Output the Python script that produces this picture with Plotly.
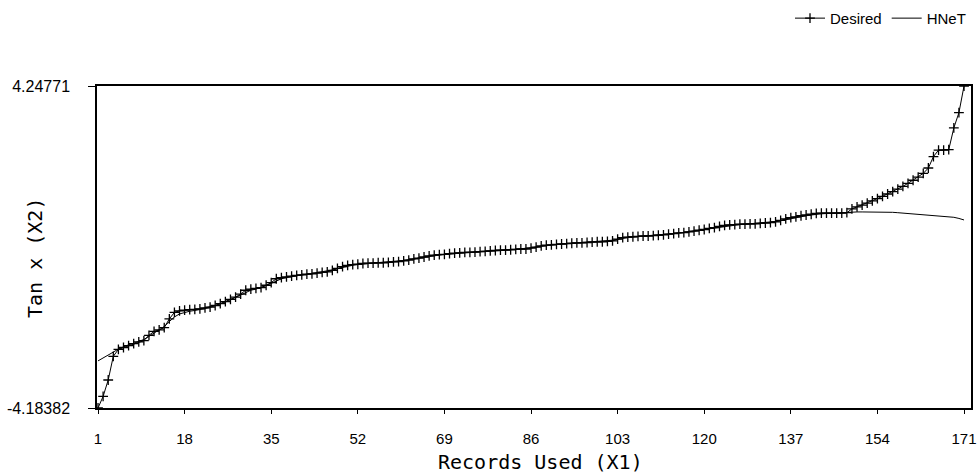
import plotly.graph_objects as go

records = list(range(1, 172))

desired = [
    -4.18382, -3.88, -3.45, -2.83, -2.65, -2.60, -2.55, -2.50, -2.45, -2.42,
    -2.28, -2.18, -2.14, -2.08, -1.85, -1.68, -1.64, -1.62, -1.61, -1.60,
    -1.59, -1.56, -1.54, -1.50, -1.45, -1.40, -1.34, -1.28, -1.20, -1.10,
    -1.07, -1.05, -1.03, -0.97, -0.90, -0.80, -0.77, -0.75, -0.73, -0.71,
    -0.70, -0.68, -0.67, -0.65, -0.63, -0.62, -0.58, -0.53, -0.48, -0.45,
    -0.43, -0.42, -0.40, -0.39, -0.39, -0.38, -0.38, -0.37, -0.36, -0.35,
    -0.33, -0.31, -0.28, -0.26, -0.23, -0.20, -0.18, -0.17, -0.16, -0.14,
    -0.13, -0.12, -0.11, -0.11, -0.10, -0.09, -0.08, -0.07, -0.06, -0.05,
    -0.05, -0.04, -0.03, -0.02, -0.02, 0.00, 0.03, 0.06, 0.08, 0.09,
    0.10, 0.11, 0.12, 0.13, 0.14, 0.14, 0.15, 0.16, 0.17, 0.17,
    0.18, 0.19, 0.24, 0.28, 0.29, 0.30, 0.31, 0.32, 0.32, 0.33,
    0.34, 0.35, 0.37, 0.38, 0.40, 0.41, 0.43, 0.45, 0.47, 0.49,
    0.52, 0.54, 0.57, 0.60, 0.61, 0.62, 0.63, 0.63, 0.64, 0.64,
    0.65, 0.66, 0.67, 0.69, 0.73, 0.77, 0.80, 0.82, 0.85, 0.87,
    0.89, 0.91, 0.92, 0.92, 0.92, 0.92, 0.92, 0.93, 1.03, 1.08,
    1.13, 1.18, 1.24, 1.30, 1.36, 1.42, 1.48, 1.55, 1.62, 1.70,
    1.78, 1.86, 1.96, 2.10, 2.40, 2.57, 2.57, 2.58, 3.15, 3.55,
    4.24771,
]

hnet = [
    -2.95, -2.88, -2.80, -2.72, -2.64, -2.58, -2.53, -2.49, -2.44, -2.39,
    -2.31, -2.22, -2.14, -2.05, -1.92, -1.80, -1.72, -1.68, -1.65, -1.63,
    -1.61, -1.58, -1.55, -1.51, -1.46, -1.41, -1.35, -1.29, -1.22, -1.15,
    -1.10, -1.07, -1.03, -0.98, -0.92, -0.85, -0.80, -0.77, -0.74, -0.72,
    -0.70, -0.68, -0.66, -0.64, -0.62, -0.60, -0.57, -0.53, -0.50, -0.47,
    -0.44, -0.42, -0.41, -0.40, -0.39, -0.38, -0.37, -0.36, -0.35, -0.34,
    -0.32, -0.30, -0.28, -0.26, -0.23, -0.21, -0.19, -0.17, -0.16, -0.15,
    -0.13, -0.12, -0.11, -0.10, -0.09, -0.09, -0.08, -0.07, -0.06, -0.05,
    -0.04, -0.03, -0.03, -0.02, -0.01, 0.01, 0.03, 0.05, 0.07, 0.08,
    0.10, 0.11, 0.12, 0.13, 0.13, 0.14, 0.15, 0.16, 0.17, 0.18,
    0.19, 0.21, 0.23, 0.26, 0.28, 0.29, 0.30, 0.31, 0.32, 0.33,
    0.34, 0.35, 0.37, 0.38, 0.40, 0.41, 0.43, 0.45, 0.47, 0.49,
    0.51, 0.54, 0.56, 0.58, 0.60, 0.61, 0.62, 0.63, 0.64, 0.65,
    0.66, 0.67, 0.68, 0.70, 0.72, 0.75, 0.78, 0.80, 0.83, 0.85,
    0.87, 0.89, 0.90, 0.91, 0.92, 0.92, 0.93, 0.93, 0.94, 0.95,
    0.95, 0.95, 0.95, 0.95, 0.95, 0.94, 0.94, 0.93, 0.92, 0.91,
    0.90, 0.89, 0.88, 0.87, 0.86, 0.85, 0.84, 0.83, 0.81, 0.78,
    0.74,
]

x_ticks = [1, 18, 35, 52, 69, 86, 103, 120, 137, 154, 171]
y_ticks = [-4.18382, 4.24771]
y_tick_text = ["-4.18382", "4.24771"]
x_title = "Records Used (X1)"
y_title = "Tan x (X2)"

sans = "Liberation Sans, Arial, sans-serif"

fig = go.Figure()
fig.add_trace(go.Scatter(
    x=records, y=desired, name="Desired", mode="lines+markers",
    line=dict(color="black", width=1),
    marker=dict(symbol="cross-thin", size=7, line=dict(color="black", width=1.3)),
))
fig.add_trace(go.Scatter(
    x=records, y=hnet, name="HNeT", mode="lines",
    line=dict(color="black", width=1),
))

title_font = dict(family="DejaVu Sans Mono, monospace", size=20, color="black")
fig.update_layout(
    width=978, height=475,
    paper_bgcolor="white", plot_bgcolor="white",
    margin=dict(l=97, r=7, t=86, b=67, autoexpand=False),
    font=dict(family=sans, size=13, color="black"),
    showlegend=True,
    legend=dict(orientation="h", x=1.0, xanchor="right", y=1.21, yanchor="middle",
                font=dict(family=sans, size=15), bgcolor="rgba(0,0,0,0)", itemwidth=30),
    annotations=[
        dict(text=x_title, xref="paper", yref="paper", x=0.507, y=-0.168,
             xanchor="center", yanchor="middle", showarrow=False, font=title_font),
        dict(text=y_title, xref="paper", yref="paper", x=-0.0709, y=0.466,
             xanchor="center", yanchor="middle", showarrow=False, textangle=-90,
             font=title_font),
    ],
)
fig.update_xaxes(
    range=[0.8, 172.37], tickmode="array", tickvals=x_ticks, automargin=False,
    showgrid=False, zeroline=False, showline=True, linecolor="black", linewidth=1.5,
    mirror=True, ticks="outside", ticklen=4, tickcolor="black", ticklabelstandoff=12,
    ticklabeloverflow="allow", tickfont=dict(family=sans, size=15),
)
fig.update_yaxes(
    range=[-4.18382, 4.24771], tickmode="array", tickvals=y_ticks, ticktext=y_tick_text,
    automargin=False,
    showgrid=False, zeroline=False, showline=True, linecolor="black", linewidth=1.5,
    mirror=True, ticks="outside", ticklen=7, tickcolor="black", ticklabelstandoff=15,
    tickfont=dict(family=sans, size=16),
)

fig.write_html(
    "out.html",
    config={"displayModeBar": False},
    post_script="document.body.style.margin='0';document.body.style.overflow='hidden';",
)
